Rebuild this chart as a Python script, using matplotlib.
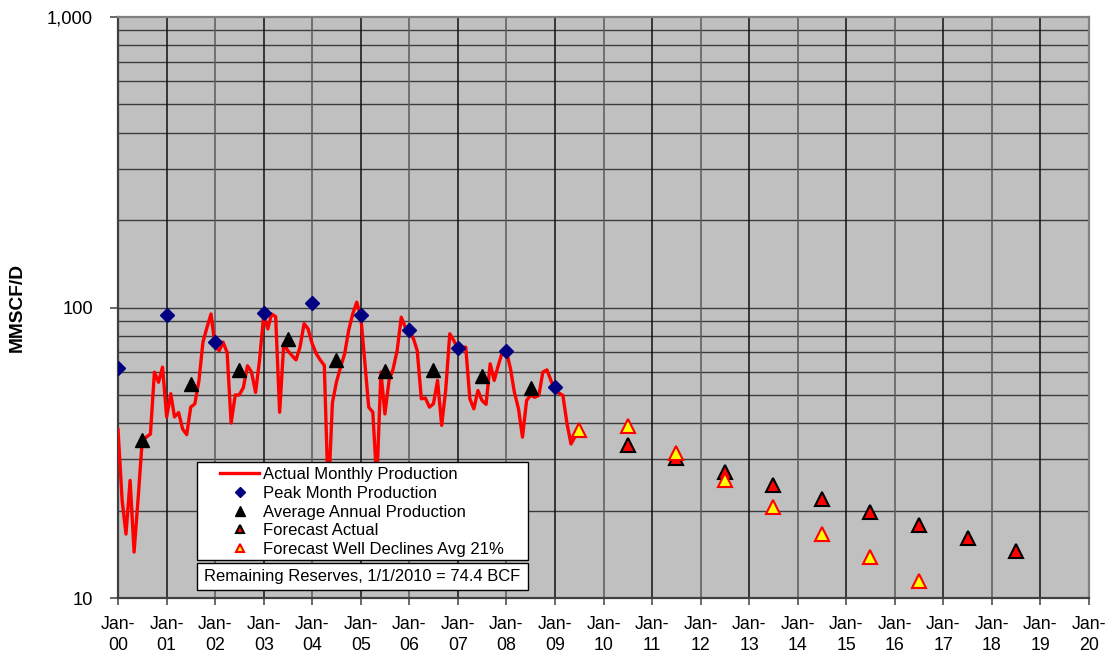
import matplotlib
matplotlib.use('Agg')
import matplotlib.pyplot as plt
import matplotlib.dates as mdates
from matplotlib.ticker import FixedLocator, FuncFormatter, NullFormatter
from matplotlib.patches import Rectangle
import datetime as dt

plt.rcParams['font.family'] = ['Liberation Sans', 'DejaVu Sans']

# ---------------- data ----------------
monthly_production = [
    # 2000
    38, 21.7, 16.6, 25.4, 14.4, 22.2, 34.8, 35.8, 36.7, 59.9, 55.3, 62.3,
    # 2001
    42, 50.5, 42, 43.5, 38.2, 36.5, 45.4, 46.6, 56, 76, 85.6, 95,
    # 2002
    73, 71, 76, 70, 40, 50, 50, 53, 63, 60, 51, 66,
    # 2003
    94, 84.4, 95, 93, 43.6, 75, 71, 68.4, 66, 73, 88, 84.4,
    # 2004
    75, 69.3, 66, 63.2, 22, 47, 55.3, 62.3, 69.3, 83.3, 95.1, 104.3,
    # 2005
    92.6, 64, 45.4, 43.6, 25, 60, 43, 56.1, 61.5, 71.1, 92.6, 85.6,
    # 2006
    83.3, 78, 71.1, 48.5, 48.8, 45.4, 46.6, 56.1, 39.3, 51.8, 81.2, 77,
    # 2007
    72.1, 73, 73, 48.5, 44.8, 51.8, 47.9, 46.4, 64, 56.1, 63.2, 70.2,
    # 2008
    70.6, 61.5, 51.1, 44.8, 35.8, 47.9, 49.8, 49.1, 49.8, 59.9, 61, 56.1,
    # 2009
    51.8, 50.7, 49.8, 39.8, 33.9, 36,
]
start_year = 2000

peak_years = [2000, 2001, 2002, 2003, 2004, 2005, 2006, 2007, 2008, 2009]
peak_values = [61.7, 94.6, 75.8, 95.5, 103.8, 93.9, 83.8, 72.4, 70.6, 53.2]

avg_years = [2000, 2001, 2002, 2003, 2004, 2005, 2006, 2007, 2008]
avg_values = [34.9, 54.5, 60.7, 77.7, 66.1, 60.3, 61.0, 58.3, 52.9]

fc_actual_years = [2010, 2011, 2012, 2013, 2014, 2015, 2016, 2017, 2018]
fc_actual_values = [33.5, 30.4, 27.1, 24.4, 21.95, 19.74, 17.86, 16.11, 14.57]

fc_well_years = [2009, 2010, 2011, 2012, 2013, 2014, 2015, 2016]
fc_well_values = [37.9, 39.2, 31.5, 25.4, 20.65, 16.55, 13.82, 11.4]

x_years = list(range(2000, 2021))
y_ticks = [10, 100, 1000]
y_tick_labels = ['10', '100', '1,000']

legend_labels = ['Actual Monthly Production', 'Peak Month Production',
                 'Average Annual Production', 'Forecast Actual',
                 'Forecast Well Declines Avg 21%']
reserves_text = 'Remaining Reserves, 1/1/2010 = 74.4 BCF'
y_label = 'MMSCF/D'

# ---------------- figure ----------------
fig = plt.figure(figsize=(11.12, 6.56), dpi=100)
ax = fig.add_axes([0.10612, 0.08841, 0.87320, 0.88568])
ax.set_facecolor('#c0c0c0')

month_dates = [dt.date(start_year + i // 12, i % 12 + 1, 1) for i in range(len(monthly_production))]
mid = lambda yrs: [dt.date(y, 7, 1) for y in yrs]
jan = lambda yrs: [dt.date(y, 1, 1) for y in yrs]

ax.set_yscale('log')
ax.set_ylim(10, 1000)
ax.set_xlim(mdates.date2num(dt.date(x_years[0], 1, 1)), mdates.date2num(dt.date(x_years[-1], 1, 1)))

# grid
minor_vals = [m * d for d in (10, 100) for m in range(2, 10)]
for v in minor_vals + [100]:
    ax.axhline(v, color='#3c3c3c', lw=1.0, zorder=1)
for y in x_years[1:-1]:
    ax.axvline(mdates.date2num(dt.date(y, 1, 1)), color=('#111111' if y % 2 else '#5a5a5a'),
               lw=1.1, zorder=1)

l1, = ax.plot(month_dates, monthly_production, color='#ff0000', lw=2.4, zorder=3,
              label=legend_labels[0])
l2, = ax.plot(jan(peak_years), peak_values, ls='none', marker='D', ms=7.4,
              color='#000080', zorder=4, label=legend_labels[1])
l3, = ax.plot(mid(avg_years), avg_values, ls='none', marker='^', ms=10,
              color='black', zorder=4, label=legend_labels[2])
l4, = ax.plot(mid(fc_actual_years), fc_actual_values, ls='none', marker='^', ms=9.5,
              markerfacecolor='#ff0000', markeredgecolor='black', markeredgewidth=1.5,
              zorder=4, label=legend_labels[3])
l5, = ax.plot(mid(fc_well_years), fc_well_values, ls='none', marker='^', ms=9.5,
              markerfacecolor='#ffff00', markeredgecolor='#ff0000', markeredgewidth=1.5,
              zorder=5, label=legend_labels[4])

# axes styling
for side in ('left', 'bottom'):
    ax.spines[side].set_color('#404040')
    ax.spines[side].set_linewidth(1.6)
for side in ('top', 'right'):
    ax.spines[side].set_color('#808080')
    ax.spines[side].set_linewidth(1.6)

ax.xaxis.set_major_locator(FixedLocator([mdates.date2num(d) for d in jan(x_years)]))
ax.xaxis.set_major_formatter(FuncFormatter(
    lambda v, p: 'Jan-\n%02d' % (mdates.num2date(v).year % 100)))
ax.yaxis.set_major_locator(FixedLocator(y_ticks))
ax.yaxis.set_major_formatter(FuncFormatter(lambda v, p: y_tick_labels[y_ticks.index(round(v))]
                                           if round(v) in y_ticks else ''))
ax.yaxis.set_minor_locator(FixedLocator(minor_vals))
ax.yaxis.set_minor_formatter(NullFormatter())
ax.tick_params(axis='x', which='major', direction='out', length=5, width=1.1,
               color='#404040', labelsize=12.8, pad=8)
ax.tick_params(axis='y', which='major', direction='out', length=6, width=1.1,
               color='#404040', labelsize=13.2, pad=12)
ax.tick_params(axis='y', which='minor', length=0)
for t in ax.get_xticklabels():
    t.set_linespacing(1.3)

fig.text(17 / 1112, 1 - 307 / 656, y_label, rotation=90, ha='center', va='center',
         fontsize=13.8, fontweight='bold')

# legend box + legend entries
ax.add_patch(Rectangle((0.081, 0.0654), 0.3416, 0.1682, transform=ax.transAxes,
                       facecolor='white', edgecolor='black', lw=1.0, zorder=9))
leg = ax.legend(handles=[l1, l2, l3, l4, l5], loc='upper left',
                bbox_to_anchor=(0.105, 0.2250),
                fontsize=12.0, frameon=False, borderpad=0, labelspacing=0.22,
                handlelength=2.35, handletextpad=0.25, markerscale=0.66, borderaxespad=0)
leg.set_zorder(10)

ax.add_patch(Rectangle((0.081, 0.0138), 0.3416, 0.0459, transform=ax.transAxes,
                       facecolor='white', edgecolor='black', lw=1.0, zorder=11))
ax.text(0.081 + 0.3416 / 2, 0.0138 + 0.0459 / 2, reserves_text, transform=ax.transAxes,
        ha='center', va='center', fontsize=11.9, zorder=12)

fig.savefig('out.png', dpi=100)
